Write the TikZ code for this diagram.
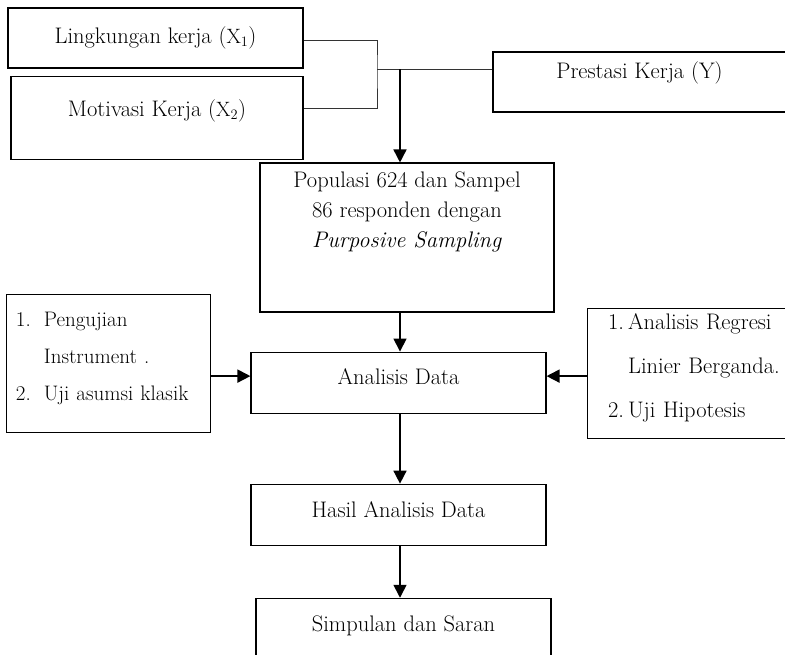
\documentclass[tikz,border=0pt]{standalone}
\usepackage{tikz}
\usetikzlibrary{arrows.meta,positioning,calc}

\begin{document}
\begin{tikzpicture}[x=1pt,y=-1pt,
  every node/.style={font=\fontsize{22.5}{30}\selectfont},
  box/.style={draw,line width=1.1pt,align=center,inner sep=0pt},
  ln/.style={line width=0.7pt,black!80},
  arr/.style={-{Triangle[length=13pt,width=13pt]},line width=1.6pt}]
\useasboundingbox (0,0) rectangle (785,654);
\clip (0,0) rectangle (785,654);
% variabel
\node[box,minimum width=295pt,minimum height=60pt] (lk) at (155.5,38) {Lingkungan kerja ($\mathrm{X}_1$)};
\node[box,minimum width=292pt,minimum height=83pt,below=7pt of lk,xshift=1.5pt] (mk) {Motivasi Kerja ($\mathrm{X}_2$)\\[-11pt]\mbox{}};
\node[box,minimum width=293pt,minimum height=60pt] (pk) at (639.5,82) {Prestasi Kerja (Y)\\[-6pt]\mbox{}};
\coordinate (jn) at (377,69);
\coordinate (jd) at (400,69);
\draw[ln] ($(lk.east)+(0,2)$) -| (jn) |- ($(mk.east)+(0,-9.5)$);
\draw[ln] (jn) -- (jn -| pk.west);
% alur
\node[box,minimum width=294pt,minimum height=149pt] (pop) at (407,237.5) {Populasi 624 dan Sampel\\86 responden dengan\\\textit{Purposive Sampling}\\[25pt]\mbox{}};
\node[box,minimum width=295pt,minimum height=61pt,below=39pt of pop,xshift=-8.5pt] (ad) {Analisis Data\\[-17pt]\mbox{}};
\node[box,minimum width=295pt,minimum height=61pt,below=70pt of ad] (hasil) {Hasil Analisis Data\\[-19pt]\mbox{}};
\node[box,minimum width=295pt,minimum height=80pt,below=52pt of hasil,xshift=5pt] (simp) {Simpulan dan Saran\\\mbox{}};
\node[box,align=left,text width=186pt,inner xsep=9pt,minimum height=138pt,left=39pt of ad,yshift=19.5pt,font=\fontsize{21}{30}\selectfont] (uji) {%
  \makebox[28pt][l]{1.}Pengujian\\[7pt]
  \makebox[28pt][l]{}Instrument .\\[7pt]
  \mbox{\makebox[28pt][l]{2.}Uji asumsi klasik}\\[-16pt]\mbox{}};
\node[box,align=left,text width=175pt,inner xsep=21pt,minimum height=130pt,right=40pt of ad,yshift=9.5pt] (reg) {%
  \makebox[20pt][l]{1.}Analisis Regresi\\[14pt]
  \makebox[20pt][l]{}Linier Berganda.\\[14pt]
  \makebox[20pt][l]{2.}Uji Hipotesis\\[-14pt]\mbox{}};
\draw[arr] (jd) -- (jd |- pop.north);
\draw[arr] (pop.south -| jd) -- (jd |- ad.north);
\draw[arr] ($(uji.east |- ad.west)+(0,-6.5)$) -- ($(ad.west)+(0,-6.5)$);
\draw[arr] ($(reg.west |- ad.east)+(0,-6.5)$) -- ($(ad.east)+(0,-6.5)$);
\draw[arr] (ad.south -| jd) -- (jd |- hasil.north);
\draw[arr] (hasil.south -| jd) -- (jd |- simp.north);
\end{tikzpicture}
\end{document}
